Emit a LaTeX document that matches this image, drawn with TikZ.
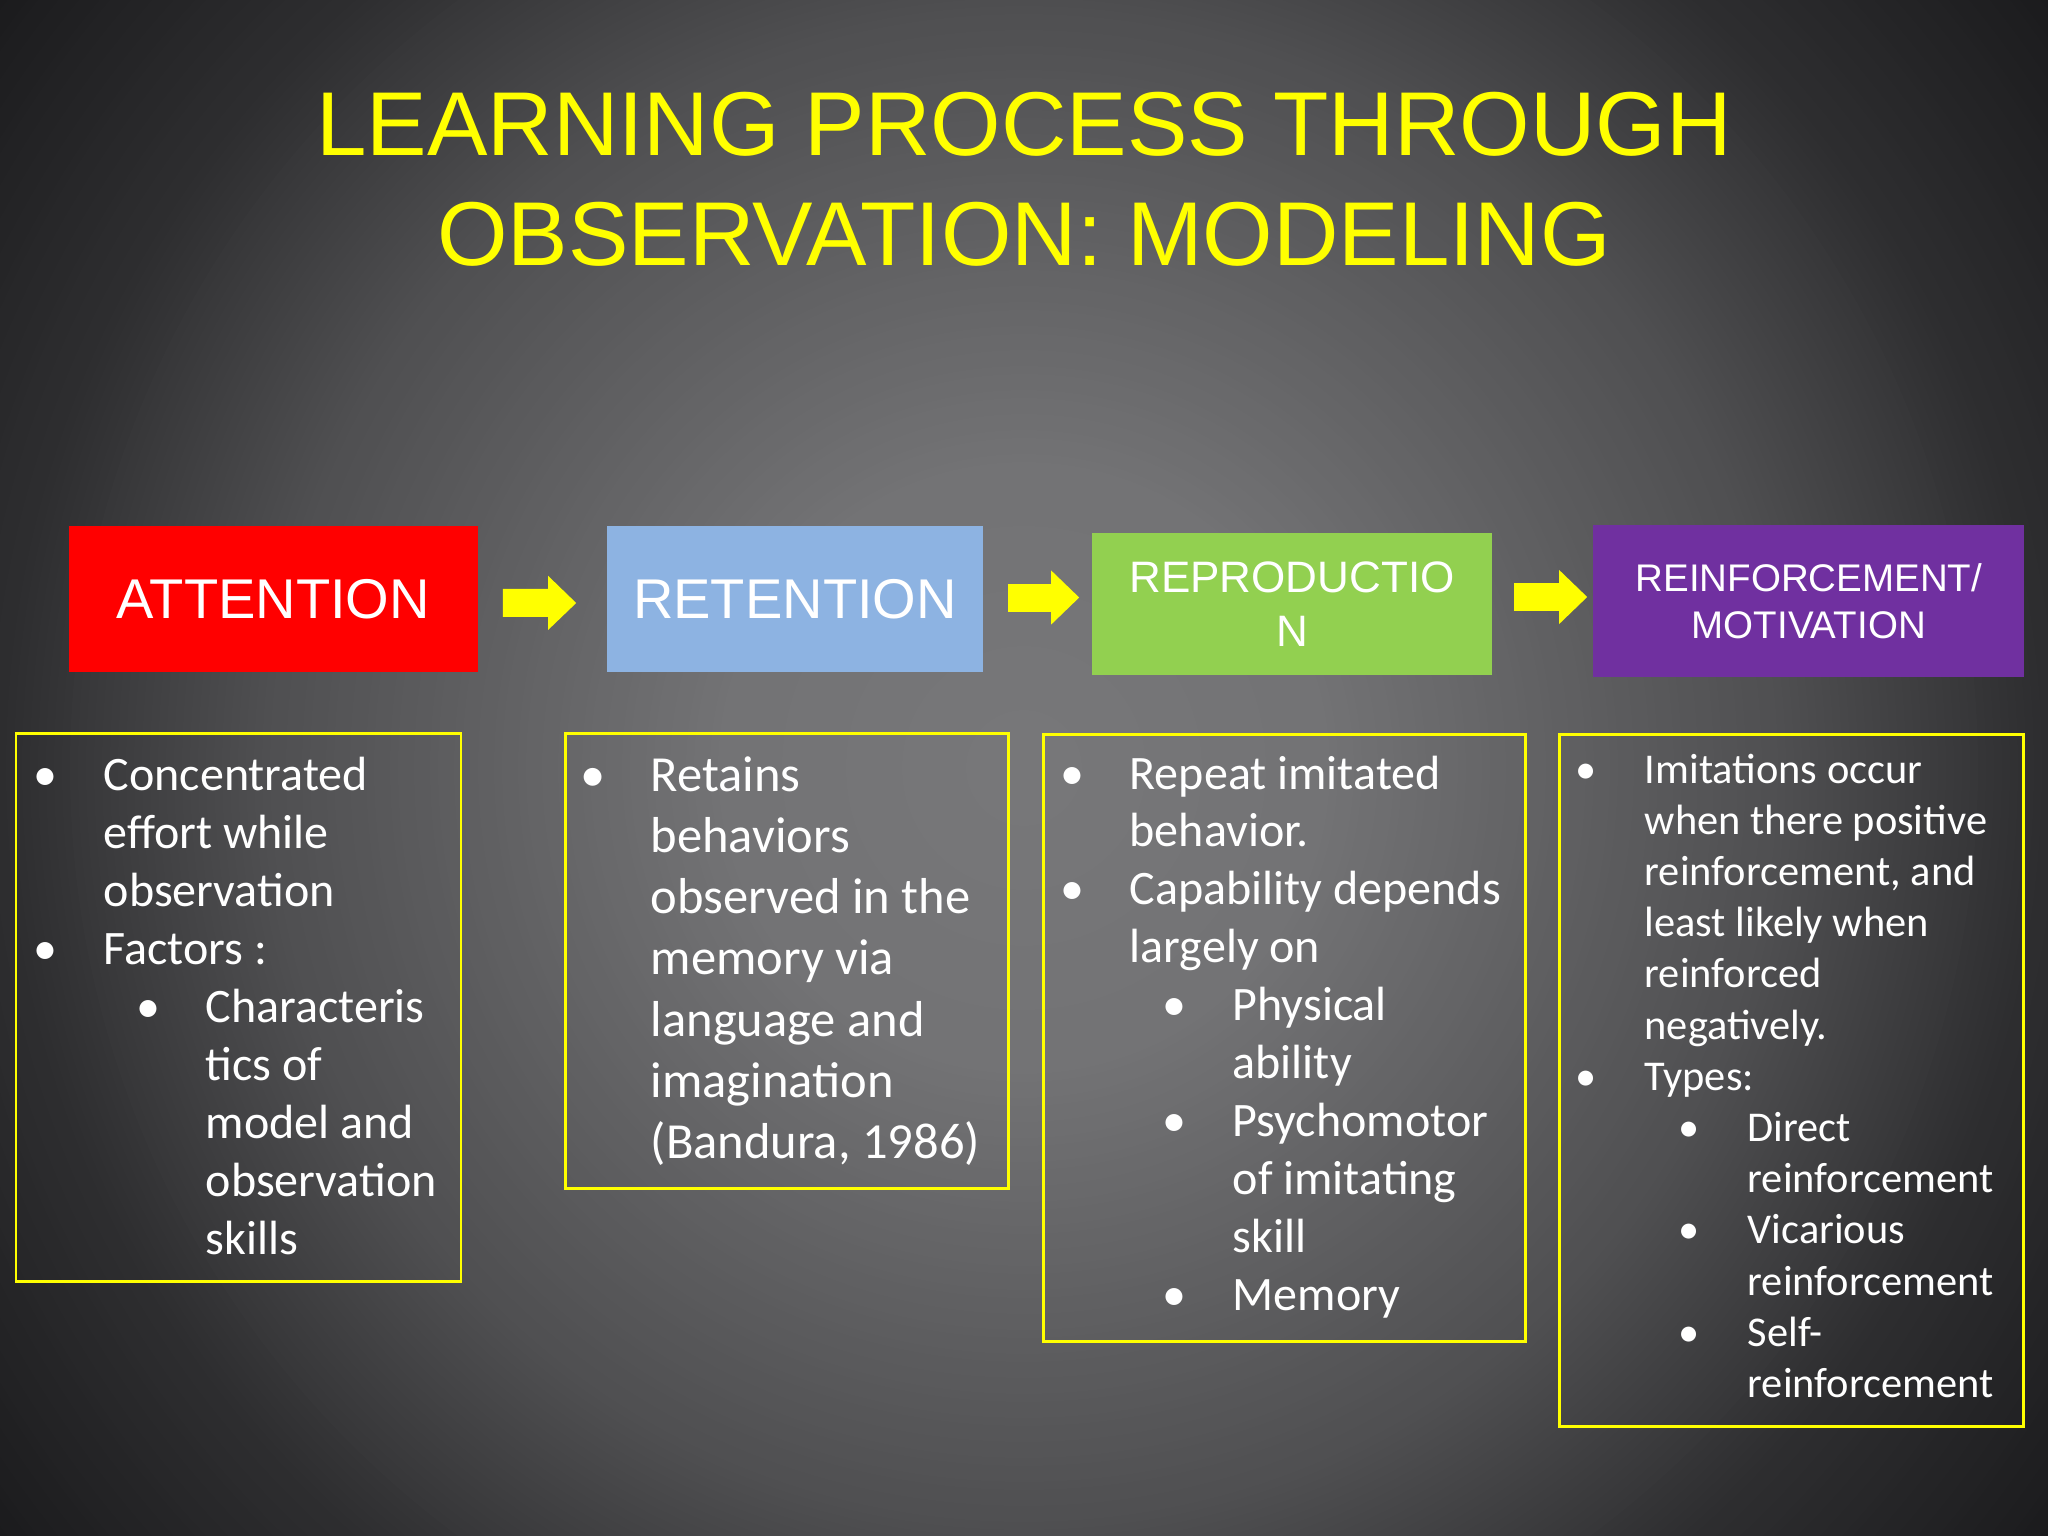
\documentclass[tikz,border=0pt]{standalone}
\usepackage{fontspec}
\setmainfont{Carlito}
\newfontfamily\arialf{Liberation Sans}
\usetikzlibrary{arrows.meta}
\definecolor{attred}{HTML}{FF0000}
\definecolor{retblue}{HTML}{8DB3E2}
\definecolor{repgreen}{HTML}{92D050}
\definecolor{reinpurple}{HTML}{7030A0}
\definecolor{ylw}{HTML}{FFFF00}
\definecolor{bgedge}{HTML}{1C1B1D}
\begin{document}
\begin{tikzpicture}[x=0.01cm,y=-0.01cm,
  headbox/.style={inner sep=0pt, text=white, align=center},
  frame/.style={draw=ylw, line width=0.85pt},
  blockarr/.style={draw=ylw, line width=0.28cm, -{Triangle[width=0.54cm,length=0.28cm,line width=0pt,fill=ylw]}},
  bodytext/.style={anchor=base west, inner sep=0pt, text=white},
  bul/.style={anchor=base, inner sep=0pt, text=white},
  titletext/.style={anchor=base, inner sep=0pt, text=ylw, font=\arialf\fontsize{25.78}{31}\selectfont}]
\useasboundingbox (0,0) rectangle (2048,1536);
% radial background
\begin{scope}
\clip (0,0) rectangle (2048,1536);
\fill[bgedge] (0,0) rectangle (2048,1536);
\foreach \r in {1290,1282,...,6} {
  \pgfmathsetmacro{\s}{\r/100}
  \pgfmathsetmacro{\g}{int(\s<3.07 ? 120-5*\s/3.07 : (\s<7.68 ? 115-36*(\s-3.07)/4.61 : (\s<10.24 ? 79-33*(\s-7.68)/2.56 : 46-18*(\s-10.24)/2.56)))}
  \pgfmathsetmacro{\gb}{int(\g+2)}
  \fill[fill={rgb,255:red,\g;green,\g;blue,\gb}] (1024,768) circle [radius=\r];
}
\end{scope}

% title
\node[titletext] (title1) at (1024,155) {LEARNING PROCESS THROUGH};
\node[titletext] (title2) at (1024,265) {OBSERVATION: MODELING};

% top boxes
\node[headbox, fill=attred, minimum width=4.085cm, minimum height=1.457cm,
      font=\arialf\fontsize{15.93}{19}\selectfont] (att) at (273.25,598.85) {ATTENTION};
\node[headbox, fill=retblue, minimum width=3.76cm, minimum height=1.46cm,
      font=\arialf\fontsize{15.93}{19}\selectfont] (ret) at (795,599) {RETENTION};
\node[headbox, fill=repgreen, minimum width=4.0cm, minimum height=1.42cm,
      font=\arialf\fontsize{12.52}{15.36}\selectfont] (rep) at (1292,604) {REPRODUCTIO\\N};
\node[headbox, fill=reinpurple, minimum width=4.304cm, minimum height=1.52cm,
      font=\arialf\fontsize{10.95}{13.37}\selectfont] (rein) at (1808.8,601) {REINFORCEMENT/\\MOTIVATION};

% block arrows
\draw[blockarr] ([shift={(24.5,4)}]att.east) -- ([shift={(-30,4)}]ret.west);
\draw[blockarr] ([shift={(24,-1.5)}]ret.east) -- ([shift={(-12,-6.5)}]rep.west);
\draw[blockarr] ([shift={(21,-7)}]rep.east) -- ([shift={(-5.6,-4)}]rein.west);

% frames
\draw[frame] (16,733) rectangle (461,1281);
\draw[frame] (565,733) rectangle (1008,1188);
\draw[frame] (1043,734) rectangle (1525,1341);
\draw[frame] (1559,734) rectangle (2023.5,1426);

% box 1
\begin{scope}[every node/.append style={font=\fontsize{13.66}{16.5}\selectfont}]
\foreach \x/\t [count=\i] in {103/Concentrated, 103/effort while, 103/observation, 103/Factors :,
    205/Characteris, 205/tics of, 205/model and, 205/observation, 205/skills}
  \node[bodytext] (ba\i) at (\x,{790+(\i-1)*58}) {\t};
\foreach \x/\l in {45.5/1, 45.5/4, 148.7/5}
  \node[bul] (bad\l) at (\x,{790+(\l-1)*58}) {•};
\end{scope}

% box 2
\begin{scope}[every node/.append style={font=\fontsize{14.37}{17.4}\selectfont}]
\foreach \x/\t [count=\i] in {650/Retains, 650/behaviors, 650/observed in the, 650/memory via,
    650/language and, 650/imagination, {650/(Bandura, 1986)}}
  \node[bodytext] (bb\i) at (\x,{791+(\i-1)*61.3}) {\t};
\foreach \x/\l in {592.8/1}
  \node[bul] (bbd\l) at (\x,{791+(\l-1)*61.3}) {•};
\end{scope}

% box 3
\begin{scope}[every node/.append style={font=\fontsize{13.66}{16.5}\selectfont}]
\foreach \x/\t [count=\i] in {1129/Repeat imitated, 1129/behavior., 1129/Capability depends, 1129/largely on,
    1232/Physical, 1232/ability, 1232/Psychomotor, 1232/of imitating, 1232/skill, 1232/Memory}
  \node[bodytext] (bc\i) at (\x,{789+(\i-1)*57.9}) {\t};
\foreach \x/\l in {1072/1, 1072/3, 1174/5, 1174/7, 1174/10}
  \node[bul] (bcd\l) at (\x,{789+(\l-1)*57.9}) {•};
\end{scope}

% box 4
\begin{scope}[every node/.append style={font=\fontsize{12.06}{14.6}\selectfont}]
\foreach \x/\t [count=\i] in {1644/Imitations occur, 1644/when there positive, {1644/reinforcement, and},
    1644/least likely when, 1644/reinforced, 1644/negatively., 1644/Types:,
    1747/Direct, 1747/reinforcement, 1747/Vicarious, 1747/reinforcement, 1747/Self-, 1747/reinforcement}
  \node[bodytext] (bd\i) at (\x,{783+(\i-1)*51.2}) {\t};
\foreach \x/\l in {1586.5/1, 1586.5/7, 1689/8, 1689/10, 1689/12}
  \node[bul] (bdd\l) at (\x,{783+(\l-1)*51.2}) {•};
\end{scope}
\end{tikzpicture}
\end{document}
